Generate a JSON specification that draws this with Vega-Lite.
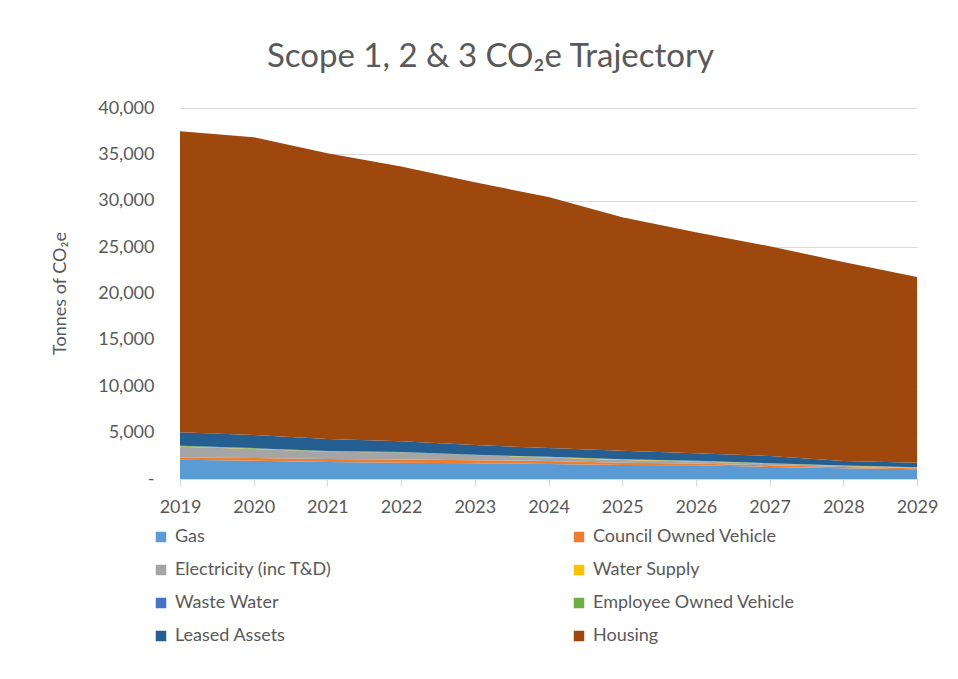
{
  "$schema": "https://vega.github.io/schema/vega-lite/v6.json",
  "autosize": "none",
  "width": 737,
  "height": 371,
  "padding": {"left": 180, "top": 108, "right": 41, "bottom": 200},
  "background": "white",
  "config": {
    "font": "Lato",
    "view": {"stroke": null},
    "axis": {"labelFont": "Lato", "titleFont": "Lato", "labelColor": "#595959", "titleColor": "#595959", "labelFontSize": 18, "titleFontSize": 18, "titleFontWeight": "normal"},
    "legend": {"labelFont": "Lato", "labelFontSize": 18, "labelColor": "#595959"}
  },
  "title": {"text": "Scope 1, 2 & 3 CO₂e Trajectory", "fontSize": 33, "fontWeight": "normal", "color": "#595959", "font": "Lato", "anchor": "middle", "dx": -58, "offset": 25},
  "data": {"values": [
    {"year": "2019", "source": "Gas", "value": 2080},
    {"year": "2020", "source": "Gas", "value": 1970},
    {"year": "2021", "source": "Gas", "value": 1830},
    {"year": "2022", "source": "Gas", "value": 1760},
    {"year": "2023", "source": "Gas", "value": 1690},
    {"year": "2024", "source": "Gas", "value": 1620},
    {"year": "2025", "source": "Gas", "value": 1510},
    {"year": "2026", "source": "Gas", "value": 1480},
    {"year": "2027", "source": "Gas", "value": 1300},
    {"year": "2028", "source": "Gas", "value": 1150},
    {"year": "2029", "source": "Gas", "value": 1050},
    {"year": "2019", "source": "Council Owned Vehicle", "value": 260},
    {"year": "2020", "source": "Council Owned Vehicle", "value": 300},
    {"year": "2021", "source": "Council Owned Vehicle", "value": 320},
    {"year": "2022", "source": "Council Owned Vehicle", "value": 330},
    {"year": "2023", "source": "Council Owned Vehicle", "value": 330},
    {"year": "2024", "source": "Council Owned Vehicle", "value": 320},
    {"year": "2025", "source": "Council Owned Vehicle", "value": 250},
    {"year": "2026", "source": "Council Owned Vehicle", "value": 200},
    {"year": "2027", "source": "Council Owned Vehicle", "value": 180},
    {"year": "2028", "source": "Council Owned Vehicle", "value": 150},
    {"year": "2029", "source": "Council Owned Vehicle", "value": 110},
    {"year": "2019", "source": "Electricity (inc T&D)", "value": 1150},
    {"year": "2020", "source": "Electricity (inc T&D)", "value": 970},
    {"year": "2021", "source": "Electricity (inc T&D)", "value": 800},
    {"year": "2022", "source": "Electricity (inc T&D)", "value": 760},
    {"year": "2023", "source": "Electricity (inc T&D)", "value": 530},
    {"year": "2024", "source": "Electricity (inc T&D)", "value": 380},
    {"year": "2025", "source": "Electricity (inc T&D)", "value": 300},
    {"year": "2026", "source": "Electricity (inc T&D)", "value": 220},
    {"year": "2027", "source": "Electricity (inc T&D)", "value": 180},
    {"year": "2028", "source": "Electricity (inc T&D)", "value": 110},
    {"year": "2029", "source": "Electricity (inc T&D)", "value": 60},
    {"year": "2019", "source": "Water Supply", "value": 20},
    {"year": "2020", "source": "Water Supply", "value": 20},
    {"year": "2021", "source": "Water Supply", "value": 20},
    {"year": "2022", "source": "Water Supply", "value": 20},
    {"year": "2023", "source": "Water Supply", "value": 20},
    {"year": "2024", "source": "Water Supply", "value": 20},
    {"year": "2025", "source": "Water Supply", "value": 40},
    {"year": "2026", "source": "Water Supply", "value": 20},
    {"year": "2027", "source": "Water Supply", "value": 15},
    {"year": "2028", "source": "Water Supply", "value": 15},
    {"year": "2029", "source": "Water Supply", "value": 10},
    {"year": "2019", "source": "Waste Water", "value": 10},
    {"year": "2020", "source": "Waste Water", "value": 10},
    {"year": "2021", "source": "Waste Water", "value": 10},
    {"year": "2022", "source": "Waste Water", "value": 10},
    {"year": "2023", "source": "Waste Water", "value": 10},
    {"year": "2024", "source": "Waste Water", "value": 10},
    {"year": "2025", "source": "Waste Water", "value": 10},
    {"year": "2026", "source": "Waste Water", "value": 10},
    {"year": "2027", "source": "Waste Water", "value": 10},
    {"year": "2028", "source": "Waste Water", "value": 10},
    {"year": "2029", "source": "Waste Water", "value": 10},
    {"year": "2019", "source": "Employee Owned Vehicle", "value": 70},
    {"year": "2020", "source": "Employee Owned Vehicle", "value": 60},
    {"year": "2021", "source": "Employee Owned Vehicle", "value": 50},
    {"year": "2022", "source": "Employee Owned Vehicle", "value": 40},
    {"year": "2023", "source": "Employee Owned Vehicle", "value": 40},
    {"year": "2024", "source": "Employee Owned Vehicle", "value": 40},
    {"year": "2025", "source": "Employee Owned Vehicle", "value": 30},
    {"year": "2026", "source": "Employee Owned Vehicle", "value": 30},
    {"year": "2027", "source": "Employee Owned Vehicle", "value": 20},
    {"year": "2028", "source": "Employee Owned Vehicle", "value": 20},
    {"year": "2029", "source": "Employee Owned Vehicle", "value": 20},
    {"year": "2019", "source": "Leased Assets", "value": 1440},
    {"year": "2020", "source": "Leased Assets", "value": 1410},
    {"year": "2021", "source": "Leased Assets", "value": 1280},
    {"year": "2022", "source": "Leased Assets", "value": 1140},
    {"year": "2023", "source": "Leased Assets", "value": 1040},
    {"year": "2024", "source": "Leased Assets", "value": 940},
    {"year": "2025", "source": "Leased Assets", "value": 910},
    {"year": "2026", "source": "Leased Assets", "value": 810},
    {"year": "2027", "source": "Leased Assets", "value": 775},
    {"year": "2028", "source": "Leased Assets", "value": 485},
    {"year": "2029", "source": "Leased Assets", "value": 500},
    {"year": "2019", "source": "Housing", "value": 32470},
    {"year": "2020", "source": "Housing", "value": 32110},
    {"year": "2021", "source": "Housing", "value": 30820},
    {"year": "2022", "source": "Housing", "value": 29640},
    {"year": "2023", "source": "Housing", "value": 28340},
    {"year": "2024", "source": "Housing", "value": 27070},
    {"year": "2025", "source": "Housing", "value": 25180},
    {"year": "2026", "source": "Housing", "value": 23830},
    {"year": "2027", "source": "Housing", "value": 22620},
    {"year": "2028", "source": "Housing", "value": 21460},
    {"year": "2029", "source": "Housing", "value": 20010}
  ]},
  "transform": [
    {"calculate": "indexof(['Gas','Council Owned Vehicle','Electricity (inc T&D)','Water Supply','Waste Water','Employee Owned Vehicle','Leased Assets','Housing'], datum.source)", "as": "ord"}
  ],
  "mark": {"type": "area", "interpolate": "linear"},
  "encoding": {
    "x": {
      "field": "year", "type": "ordinal",
      "scale": {"type": "point", "padding": 0},
      "axis": {"title": null, "labelAngle": 0, "grid": false, "domainColor": "#D9D9D9", "tickColor": "#D9D9D9", "tickSize": 7, "labelPadding": 12, "domainWidth": 1}
    },
    "y": {
      "field": "value", "type": "quantitative", "stack": "zero",
      "scale": {"domain": [0, 40000], "nice": false},
      "axis": {
        "title": "Tonnes of CO₂e",
        "values": [0, 5000, 10000, 15000, 20000, 25000, 30000, 35000, 40000],
        "labelExpr": "datum.value == 0 ? '-' : format(datum.value, ',')",
        "domain": false, "ticks": false, "labelPadding": 26,
        "grid": true, "gridColor": "#D9D9D9", "gridWidth": 1,
        "titleX": -120, "titleY": 185, "titleAngle": 270, "titleAlign": "center", "titleBaseline": "middle"
      }
    },
    "color": {
      "field": "source", "type": "nominal",
      "scale": {
        "domain": ["Gas", "Council Owned Vehicle", "Electricity (inc T&D)", "Water Supply", "Waste Water", "Employee Owned Vehicle", "Leased Assets", "Housing"],
        "range": ["#5B9BD5", "#ED7D31", "#A5A5A5", "#FFC000", "#4472C4", "#70AD47", "#255E91", "#9E480E"]
      },
      "legend": {
        "title": null, "orient": "none", "legendX": -28, "legendY": 420,
        "direction": "horizontal", "columns": 2, "columnPadding": 238, "rowPadding": 15,
        "symbolType": "square", "symbolSize": 110, "symbolStrokeWidth": 0, "labelOffset": 5,
        "labelLimit": 300
      }
    },
    "order": {"field": "ord", "type": "quantitative"}
  }
}
